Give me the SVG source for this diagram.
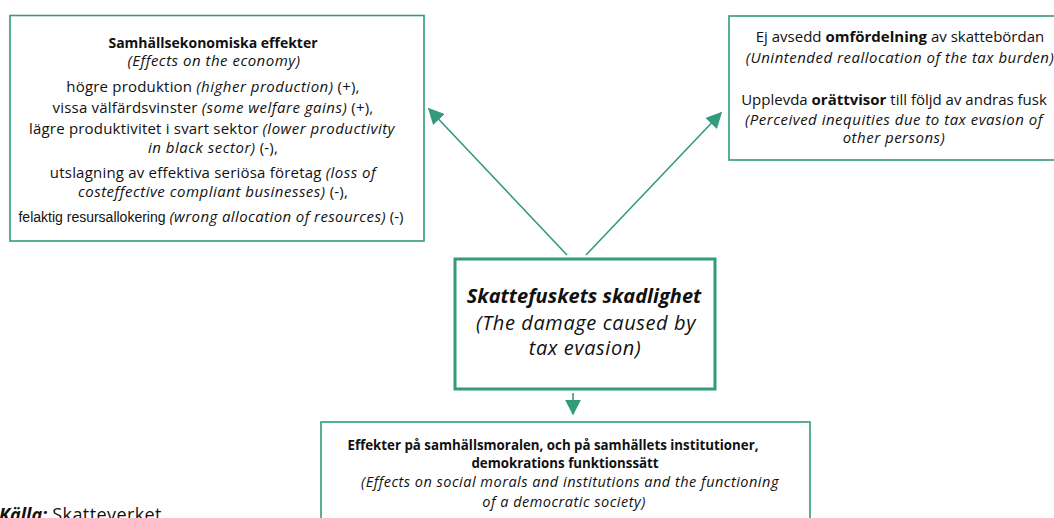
<svg xmlns="http://www.w3.org/2000/svg" width="1054" height="518" viewBox="0 0 1054 518">
<style>
.box{fill:#fff;stroke:#339a7c;stroke-width:1.6}
.main{fill:#fff;stroke:#339a7c;stroke-width:3}
.con{stroke:#339a7c;stroke-width:1.6;fill:none}
text{font-family:"Open Sans","Noto Sans","Liberation Sans",sans-serif;fill:#111;text-anchor:middle}
.t{font-size:15px;letter-spacing:0.2px}
.r{font-size:15px;letter-spacing:0}
.h{font-size:14px;font-weight:bold;letter-spacing:0}
.b{font-weight:bold;letter-spacing:0}
.i{font-style:italic;letter-spacing:0.5px}
.ar{font-family:"Liberation Sans",Arial,sans-serif;font-size:14px;letter-spacing:0}
</style>
<defs>
<marker id="ah2" viewBox="0 0 10 10" refX="9" refY="5" markerWidth="16" markerHeight="16" markerUnits="userSpaceOnUse" orient="auto"><path d="M0,0 L10,5 L0,10 z" fill="#339a7c"/></marker>
</defs>
<g id="connectors">
<line class="con" x1="567" y1="255" x2="429" y2="109" marker-end="url(#ah2)"/>
<line class="con" x1="586" y1="255" x2="721" y2="113" marker-end="url(#ah2)"/>
<line class="con" x1="573" y1="393" x2="573" y2="414" marker-end="url(#ah2)"/>
</g>
<g id="node-economy">
<rect class="box" x="10" y="15.5" width="414" height="225.5"/>
<text class="h" x="213" y="48">Samhällsekonomiska effekter</text>
<text class="t i" x="214" y="66">(Effects on the economy)</text>
<text class="t" x="213" y="92">högre produktion <tspan class="i">(higher production)</tspan> (+),</text>
<text class="t" x="213" y="113">vissa välfärdsvinster <tspan class="i">(some welfare gains)</tspan> (+),</text>
<text class="t" x="212" y="134">lägre produktivitet i svart sektor <tspan class="i">(lower productivity</tspan></text>
<text class="t" x="213" y="153"><tspan class="i">in black sector)</tspan> (-),</text>
<text class="t" x="213" y="178">utslagning av effektiva seriösa företag <tspan class="i">(loss of</tspan></text>
<text class="t" x="213" y="197"><tspan class="i">costeffective compliant businesses)</tspan> (-),</text>
<text class="t" x="211" y="222" style="letter-spacing:0"><tspan class="ar">felaktig resursallokering</tspan> <tspan class="i" style="letter-spacing:0.4px">(wrong allocation of resources)</tspan> (-)</text>
</g>
<g id="node-redistribution">
<rect class="box" x="729" y="16" width="340" height="144"/>
<text class="r" x="900" y="42">Ej avsedd <tspan class="b">omfördelning</tspan> av skattebördan</text>
<text class="r i" x="900" y="63">(Unintended reallocation of the tax burden)</text>
<text class="r" x="894" y="105">Upplevda <tspan class="b">orättvisor</tspan> till följd av andras fusk</text>
<text class="r i" x="894" y="125">(Perceived inequities due to tax evasion of</text>
<text class="r i" x="894" y="143">other persons)</text>
</g>
<g id="node-main">
<rect class="main" x="455" y="259" width="260" height="130"/>
<text class="b i" x="584" y="303" font-size="20" style="letter-spacing:0">Skattefuskets skadlighet</text>
<text class="i" x="586" y="330" font-size="20" style="letter-spacing:0.6px">(The damage caused by</text>
<text class="i" x="585" y="355" font-size="20" style="letter-spacing:0.6px">tax evasion)</text>
</g>
<g id="node-morals">
<rect class="box" x="321" y="422" width="489" height="110"/>
<text class="b" x="553" y="450" font-size="13.3">Effekter på samhällsmoralen, och på samhällets institutioner,</text>
<text class="b" x="565" y="468" font-size="13.3">demokrations funktionssätt</text>
<text class="i" x="570" y="487" font-size="14.5">(Effects on social morals and  institutions and the functioning</text>
<text class="i" x="564" y="507" font-size="14.5">of a democratic society)</text>
</g>
<g id="source">
<text x="-1" y="521" font-size="18" style="text-anchor:start"><tspan class="b i" style="letter-spacing:0">Källa:</tspan><tspan style="letter-spacing:0.4px"> Skatteverket</tspan></text>
</g>
</svg>
